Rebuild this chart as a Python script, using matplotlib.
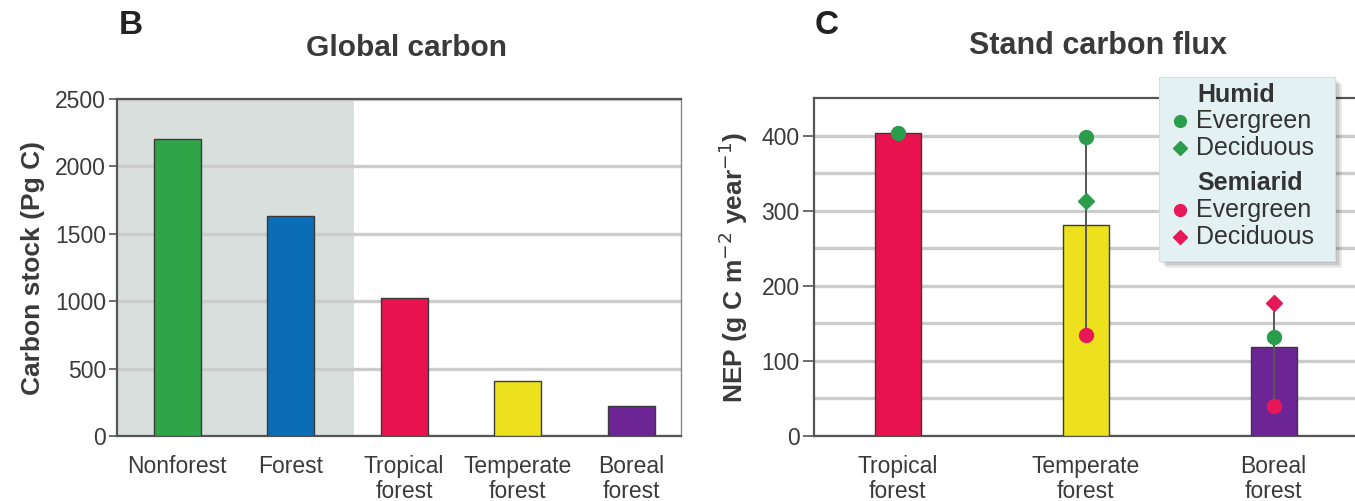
import numpy as np
import matplotlib
matplotlib.use("Agg")
import matplotlib.pyplot as plt
from matplotlib.patches import FancyBboxPatch
from matplotlib.lines import Line2D

# ---- data ----
stock_categories = ["Nonforest", "Forest", "Tropical\nforest", "Temperate\nforest", "Boreal\nforest"]
stock_values = [2200, 1635, 1025, 408, 220]
stock_colors = ["#2fa548", "#0a6db6", "#e8124f", "#ece11c", "#6d2595"]

flux_categories = ["Tropical\nforest", "Temperate\nforest", "Boreal\nforest"]
flux_values = [403, 281, 118]
flux_colors = ["#e8124f", "#ece11c", "#6d2595"]
humid_evergreen = [404, 398, 132]
humid_deciduous = [np.nan, 313, np.nan]
semiarid_evergreen = [np.nan, 134, 40]
semiarid_deciduous = [np.nan, np.nan, 177]

GREEN = "#2a9d4c"
RED = "#e8175a"
TEXT = "#3a3a3a"
SPINE = "#555555"
GRID = "#cccccc"

regular = ["Liberation Sans", "DejaVu Sans"]
TICK_FS = 16.5

fig = plt.figure(figsize=(13.55, 5.01), dpi=100)

# ---------------- panel B ----------------
axb = fig.add_axes([0.0864, 0.1297, 0.4162, 0.6727])
xb = np.arange(len(stock_categories))
axb.axvspan(-0.53, 1.56, color="#d9dfdd", zorder=0, lw=0)
axb.bar(xb, stock_values, width=0.415, color=stock_colors, edgecolor="#3a3a3a",
        linewidth=1.0, zorder=3)
axb.set_xlim(-0.53, 4.44)
axb.set_ylim(0, 2500)
axb.set_yticks([0, 500, 1000, 1500, 2000, 2500])
axb.yaxis.grid(True, color=GRID, lw=2.4, zorder=1)
axb.set_axisbelow(True)
axb.set_xticks(xb)
axb.set_xticklabels(stock_categories, fontfamily=regular, fontsize=TICK_FS,
                    color=TEXT, linespacing=1.08)
for lab in axb.get_yticklabels():
    lab.set_fontfamily(regular)
axb.tick_params(axis="x", length=0, pad=14)
axb.tick_params(axis="y", length=6, width=1.2, color=SPINE, labelsize=TICK_FS,
                labelcolor=TEXT, pad=2)
for s in ["left", "bottom", "top"]:
    axb.spines[s].set_color(SPINE)
    axb.spines[s].set_linewidth(1.6)
axb.spines["right"].set_color("#888888")
axb.spines["right"].set_linewidth(1.0)
axb.set_ylabel("Carbon stock (Pg C)", fontfamily=regular, fontweight="bold",
               fontsize=19, color=TEXT, labelpad=7)
fig.text(0.300, 0.905, "Global carbon", ha="center", va="center",
         fontfamily=regular, fontweight="bold", fontsize=21.5, color=TEXT)
fig.text(0.088, 0.950, "B", ha="left", va="center", fontfamily=regular,
         fontweight="bold", fontsize=24, color="#222222")

# ---------------- panel C ----------------
axc = fig.add_axes([0.6004, 0.1297, 0.3996, 0.6747])
xc = np.arange(len(flux_categories))
axc.bar(xc, flux_values, width=0.245, color=flux_colors, edgecolor="#3a3a3a",
        linewidth=1.0, zorder=3)
axc.set_xlim(-0.447, 2.433)
axc.set_ylim(0, 450)
axc.set_yticks([0, 100, 200, 300, 400])
axc.set_yticks(np.arange(50, 450, 100), minor=True)
axc.yaxis.grid(True, which="both", color=GRID, lw=2.4, zorder=1)
axc.set_axisbelow(True)
axc.set_xticks(xc)
axc.set_xticklabels(flux_categories, fontfamily=regular, fontsize=TICK_FS,
                    color=TEXT, linespacing=1.08)
for lab in axc.get_yticklabels():
    lab.set_fontfamily(regular)
axc.tick_params(axis="x", length=0, pad=14)
axc.tick_params(axis="y", which="major", length=8, width=1.2, color=SPINE,
                labelsize=TICK_FS, labelcolor=TEXT, pad=2)
axc.tick_params(axis="y", which="minor", length=0)
for s in ["left", "bottom", "top"]:
    axc.spines[s].set_color(SPINE)
    axc.spines[s].set_linewidth(1.6)
axc.spines["right"].set_visible(False)
axc.set_ylabel("NEP (g C m$^{-2}$ year$^{-1}$)", fontfamily=regular,
               fontweight="bold", fontsize=19, color=TEXT, labelpad=8)

# range lines spanning the site types of each forest type
series = np.array([humid_evergreen, humid_deciduous, semiarid_evergreen,
                   semiarid_deciduous], dtype=float)
for i in range(len(flux_categories)):
    col = series[:, i]
    col = col[~np.isnan(col)]
    if len(col) > 1:
        axc.plot([xc[i], xc[i]], [col.min(), col.max()], color="#555555",
                 lw=1.4, zorder=4)

axc.plot(xc, humid_evergreen, "o", color=GREEN, ms=10, zorder=5, mec=GREEN)
axc.plot(xc, humid_deciduous, "D", color=GREEN, ms=8.5, zorder=5, mec=GREEN)
axc.plot(xc, semiarid_evergreen, "o", color=RED, ms=10, zorder=5, mec=RED)
axc.plot(xc, semiarid_deciduous, "D", color=RED, ms=8.5, zorder=5, mec=RED)

fig.text(0.810, 0.908, "Stand carbon flux", ha="center", va="center",
         fontfamily=regular, fontweight="bold", fontsize=22, color=TEXT)
fig.text(0.601, 0.950, "C", ha="left", va="center", fontfamily=regular,
         fontweight="bold", fontsize=24, color="#222222")

# legend box with drop shadow
lx0, ly0, lw_, lh_ = 1159 / 1355, 1 - 261 / 501, 176 / 1355, 184 / 501
for k, a in enumerate([0.10, 0.10, 0.12, 0.14]):
    off = (k + 1) * 1.8
    shadow = FancyBboxPatch((lx0 + off / 1355, ly0 - off / 501), lw_, lh_,
                            boxstyle="square,pad=0", transform=fig.transFigure,
                            facecolor="#000000", alpha=a * 0.6, lw=0, zorder=8)
    fig.patches.append(shadow)
box = FancyBboxPatch((lx0, ly0), lw_, lh_, boxstyle="square,pad=0",
                     transform=fig.transFigure, facecolor="#e3f1f2",
                     edgecolor="#d0e0e0", lw=0.8, zorder=9)
fig.patches.append(box)

entries = [
    ("Humid", None, None, 95),
    ("Evergreen", "o", GREEN, 121),
    ("Deciduous", "D", GREEN, 148),
    ("Semiarid", None, None, 183),
    ("Evergreen", "o", RED, 210),
    ("Deciduous", "D", RED, 237),
]
for label, marker, color, ypx in entries:
    yf = 1 - ypx / 501
    if marker is None:
        fig.text(1197 / 1355, yf, label, ha="left", va="center",
                 fontfamily=regular, fontweight="bold", fontsize=18,
                 color="#333333", zorder=10)
    else:
        fig.text(1196 / 1355, yf, label, ha="left", va="center",
                 fontfamily=regular, fontsize=18, color="#333333", zorder=10)
        fig.add_artist(Line2D([1180 / 1355], [yf], marker=marker, color=color,
                              ms=8.5 if marker == "o" else 7.5, mec=color,
                              transform=fig.transFigure, zorder=10))

fig.savefig("out.png", dpi=100)
